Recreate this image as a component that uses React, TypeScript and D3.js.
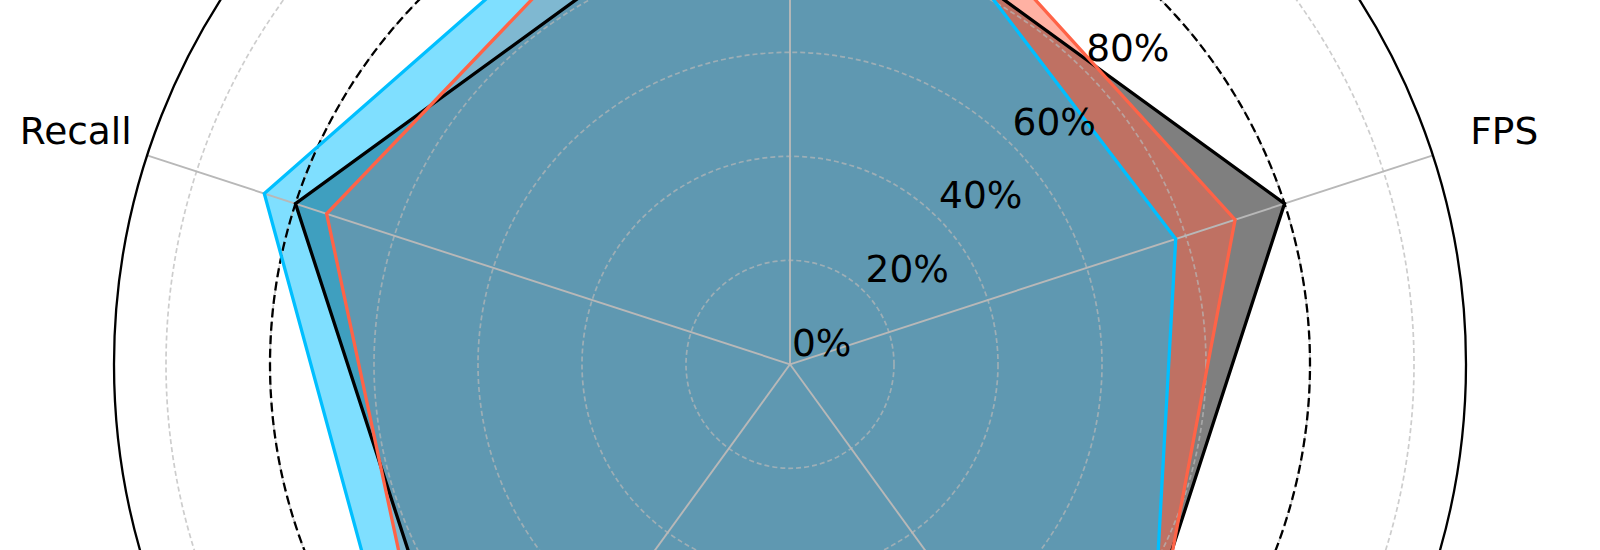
import React from "react";
import * as d3 from "d3";

const categories = ["Precision", "Recall", "mAP50", "mAP50-95", "FPS"];
const baselineValues = [1.0, 1.0, 1.0, 1.0, 1.0];
const orangeValues = [1.22, 0.937, 1.09, 1.085, 0.9];
const blueValues = [1.215, 1.063, 1.14, 1.15, 0.78];
const radialTicks = [0, 0.2, 0.4, 0.6, 0.8, 1.0, 1.2];
const radialTickLabels = ["0%", "20%", "40%", "60%", "80%", "100%", "120%"];

const W = 1600;
const H = 550;
const CX = 790;
const CY = 364.3;
const RMAX = 1.3;
const FONT = "'DejaVu Sans', sans-serif";
const FS = 37.5;

export default function App() {
  const r = d3.scaleLinear().domain([0, RMAX]).range([0, 676]);
  const n = categories.length;
  const angle = d3
    .scalePoint<number>()
    .domain(d3.range(n + 1))
    .range([0, -2 * Math.PI]);
  const ang = (i: number) => angle(i) as number;

  const radial = d3
    .lineRadial<number>()
    .angle((_, i) => ang(i))
    .radius((v) => r(v))
    .curve(d3.curveLinearClosed);

  const series = [
    { values: baselineValues, color: "#000000", fill: "#000000" },
    { values: orangeValues, color: "#FF6347", fill: "#FF6347" },
    { values: blueValues, color: "#00BFFF", fill: "#00BFFF" },
  ];

  const pt = (i: number, v: number) => {
    const a = ang(i);
    return [r(v) * Math.sin(a), -r(v) * Math.cos(a)];
  };

  const circlePts = (v: number) =>
    d3.range(0, 361).map((d) => {
      const a = (d * Math.PI) / 180;
      return [r(v) * Math.sin(a), -r(v) * Math.cos(a)] as [number, number];
    });
  const circ = d3.line().curve(d3.curveLinearClosed);

  const labelAng = Math.PI / 4;

  return (
    <svg
      width={W}
      height={H}
      style={{ position: "absolute", left: 0, top: 0, background: "#fff" }}
      fontFamily={FONT}
    >
      <g transform={`translate(${CX},${CY})`}>
        {series.map((s, k) => (
          <path key={"f" + k} d={radial(s.values) || ""} fill={s.fill} fillOpacity={0.5} stroke="none" />
        ))}
        {radialTicks.slice(1).map((t) => (
          <circle
            key={"g" + t}
            r={r(t)}
            fill="none"
            stroke="#b8b8b8"
            strokeWidth={1.7}
            strokeDasharray="5,3"
            opacity={0.7}
          />
        ))}
        {categories.map((c, i) => {
          const [x, y] = pt(i, RMAX);
          return <line key={"s" + c} x1={0} y1={0} x2={x} y2={y} stroke="#b8b8b8" strokeWidth={1.9} />;
        })}
        <path d={circ(circlePts(1.0)) || ""} fill="none" stroke="#000" strokeWidth={2.3} strokeDasharray="9,4.5" />
        {series.map((s, k) => (
          <path
            key={"l" + k}
            d={radial(s.values) || ""}
            fill="none"
            stroke={s.color}
            strokeWidth={3.3}
            strokeLinejoin="miter"
          />
        ))}
        <circle r={r(RMAX)} fill="none" stroke="#000" strokeWidth={2.3} />
        {radialTicks.map((t, i) => (
          <text
            key={"t" + t}
            x={r(t) * Math.cos(labelAng) + 2}
            y={-r(t) * Math.sin(labelAng) - 8.8}
            fontSize={FS}
            textAnchor="start"
            fill="#000"
          >
            {radialTickLabels[i]}
          </text>
        ))}
        {categories.map((c, i) => {
          const a = ang(i);
          const rr = 751;
          const x = rr * Math.sin(a);
          const y = -rr * Math.cos(a);
          return (
            <text key={"c" + c} x={x} y={y + 11.5} fontSize={FS} textAnchor="middle" fill="#000">
              {c}
            </text>
          );
        })}
      </g>
    </svg>
  );
}
